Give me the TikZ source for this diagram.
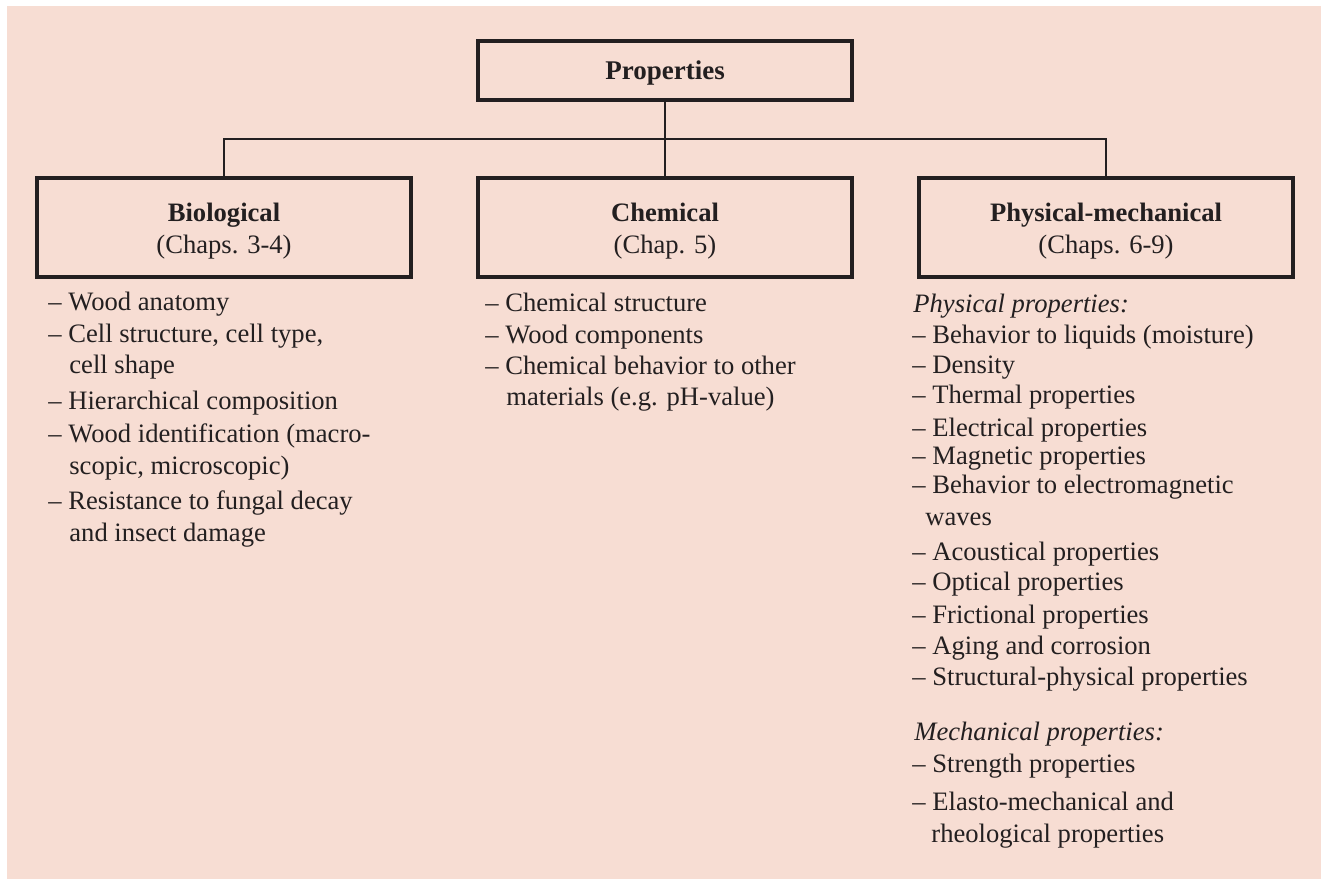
\documentclass[tikz,border=0pt]{standalone}
\usepackage{fontspec}
\setmainfont{Liberation Serif}
\definecolor{panel}{RGB}{247,221,211}
\definecolor{ink}{RGB}{35,31,32}
\tikzset{
  catbox/.style={draw=ink, line width=1.6pt, minimum width=187pt, minimum height=49.5pt, inner sep=0pt},
  boxtitle/.style={anchor=base, font=\fontsize{13.3}{15}\selectfont\bfseries, text=ink, inner sep=0pt},
  boxsub/.style={anchor=base, font=\fontsize{13.3}{15}\selectfont, text=ink, inner sep=0pt},
  entry/.style={anchor=base west, font=\fontsize{13.3}{15}\selectfont, text=ink, inner sep=0pt},
  heading/.style={entry, font=\fontsize{13.3}{15}\selectfont\itshape},
  link/.style={draw=ink, line width=0.8pt}
}
\begin{document}
\begin{tikzpicture}[x=0.5pt,y=-0.5pt]
\useasboundingbox (0,0) rectangle (1321,879);
\fill[white] (0,0) rectangle (1321,879);
\fill[panel] (7,6) rectangle (1321,879);

% top box
\node[catbox, minimum width=187pt, minimum height=29.5pt] (prop) at (665,70.5) {};
\node[boxtitle, font=\fontsize{13.5}{15}\selectfont\bfseries] (propt) at (665,79) {Properties};

% category boxes
\node[catbox] (bio)  at (224,227.5) {};
\node[catbox] (chem) at (665,227.5) {};
\node[catbox] (phys) at (1106,227.5) {};

\node[boxtitle] (biot)  at (224,221) {Biological};
\node[boxsub]   (bios)  at (224,253) {(Chaps. 3-4)};
\node[boxtitle] (chemt) at (665,221) {Chemical};
\node[boxsub]   (chems) at (665,253) {(Chap. 5)};
\node[boxtitle] (phyt)  at (1106,221) {Physical-mechanical};
\node[boxsub]   (phys2) at (1106,253) {(Chaps. 6-9)};

% connectors
\coordinate (bus) at (665,139);
\draw[link] (prop.south) -- (chem.north);
\draw[link] (bio.north) |- (bus) -| (phys.north);

% biological list
\node[entry] (b1) at (48,310) {\textendash\ Wood anatomy};
\node[entry] (b2) at (48,342) {\textendash\ Cell structure, cell type,};
\node[entry] (b3) at (69,373) {cell shape};
\node[entry] (b4) at (48,409) {\textendash\ Hierarchical composition};
\node[entry] (b5) at (48,442) {\textendash\ Wood identification (macro-};
\node[entry] (b6) at (69,474) {scopic, microscopic)};
\node[entry] (b7) at (48,509) {\textendash\ Resistance to fungal decay};
\node[entry] (b8) at (69,541) {and insect damage};

% chemical list
\node[entry] (c1) at (485,311) {\textendash\ Chemical structure};
\node[entry] (c2) at (485,343) {\textendash\ Wood components};
\node[entry] (c3) at (485,374) {\textendash\ Chemical behavior to other};
\node[entry] (c4) at (506,405) {materials (e.g. pH-value)};

% physical-mechanical list
\node[heading] (ph0) at (913,312) {Physical properties:};
\node[entry] (p1)  at (912,343) {\textendash\ Behavior to liquids (moisture)};
\node[entry] (p2)  at (912,373) {\textendash\ Density};
\node[entry] (p3)  at (912,403) {\textendash\ Thermal properties};
\node[entry] (p4)  at (912,436) {\textendash\ Electrical properties};
\node[entry] (p5)  at (912,464) {\textendash\ Magnetic properties};
\node[entry] (p6)  at (912,493) {\textendash\ Behavior to electromagnetic};
\node[entry] (p6b) at (925,525) {waves};
\node[entry] (p7)  at (912,560) {\textendash\ Acoustical properties};
\node[entry] (p8)  at (912,590) {\textendash\ Optical properties};
\node[entry] (p9)  at (912,623) {\textendash\ Frictional properties};
\node[entry] (p10) at (912,654) {\textendash\ Aging and corrosion};
\node[entry] (p11) at (912,685) {\textendash\ Structural-physical properties};
\node[heading] (mh0) at (914,740) {Mechanical properties:};
\node[entry] (m1)  at (912,772) {\textendash\ Strength properties};
\node[entry] (m2)  at (912,810) {\textendash\ Elasto-mechanical and};
\node[entry] (m2b) at (931,842) {rheological properties};
\end{tikzpicture}
\end{document}
